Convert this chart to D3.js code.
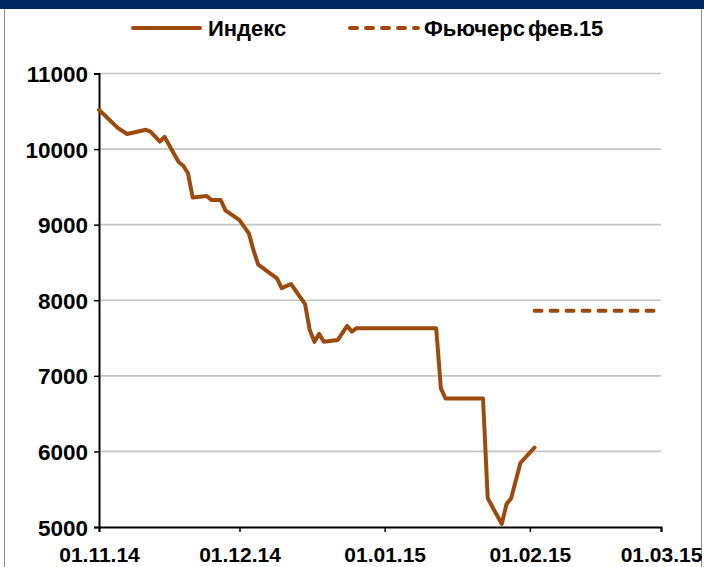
<!DOCTYPE html>
<html>
<head>
<meta charset="utf-8">
<script src="https://cdn.jsdelivr.net/npm/d3@7"></script>
<style>
    body { margin: 0; background: #fff; }
    svg text { font-family: "Liberation Sans", Arial, sans-serif; font-weight: bold; fill: #000; }
</style>
</head>
<body>
<svg id="chart" width="704" height="567"></svg>
<script>
// Index values (date, value)
var indexDates = ["01.11.14", "05.11.14", "07.11.14", "11.11.14", "12.11.14", "14.11.14", "15.11.14",
    "18.11.14", "19.11.14", "20.11.14", "21.11.14", "24.11.14", "25.11.14", "27.11.14", "28.11.14",
    "01.12.14", "03.12.14", "04.12.14", "05.12.14", "09.12.14", "10.12.14", "12.12.14", "15.12.14",
    "16.12.14", "17.12.14", "18.12.14", "19.12.14", "22.12.14", "23.12.14", "24.12.14", "25.12.14",
    "26.12.14", "12.01.15", "13.01.15", "14.01.15", "22.01.15", "23.01.15", "26.01.15", "27.01.15",
    "28.01.15", "30.01.15", "02.02.15"];
var indexValues = [10520, 10280, 10200, 10255, 10230, 10100, 10160,
    9830, 9780, 9680, 9360, 9380, 9325, 9325, 9190,
    9060, 8885, 8660, 8470, 8290, 8160, 8215, 7950,
    7605, 7450, 7555, 7450, 7475, 7570, 7660, 7585,
    7630, 7630, 6835, 6700, 6700, 5380, 5040, 5300,
    5380, 5850, 6050];

// Futures Feb.15
var futuresDates = ["02.02.15", "28.02.15"];
var futuresValues = [7860, 7860];

var xTickLabels = ["01.11.14", "01.12.14", "01.01.15", "01.02.15", "01.03.15"];
var yTicks = [5000, 6000, 7000, 8000, 9000, 10000, 11000];

var seriesNames = ["Индекс", "Фьючерс фев.15"];

var BROWN = "#9d4b0c";

var parse = d3.timeParse("%d.%m.%y");
var fmt = d3.timeFormat("%d.%m.%y");

var svg = d3.select("#chart");

// frame
svg.append("rect").attr("x", 4.5).attr("y", 0).attr("width", 697).attr("height", 580)
    .attr("fill", "none").attr("stroke", "#8c8c8c").attr("stroke-width", 1);
svg.append("rect").attr("x", 0).attr("y", 0).attr("width", 704).attr("height", 9).attr("fill", "#00275f");

var x = d3.scaleTime()
    .domain([parse(xTickLabels[0]), parse(xTickLabels[xTickLabels.length - 1])])
    .range([99, 661]);
var y = d3.scaleLinear().domain([5000, 11000]).range([527, 73.5]);

// gridlines
svg.append("g").selectAll("line").data(yTicks.slice(1)).enter().append("line")
    .attr("x1", 99).attr("x2", 661)
    .attr("y1", function(d) { return y(d); })
    .attr("y2", function(d) { return y(d); })
    .attr("stroke", "#c4c4c4").attr("stroke-width", 1.6);

// y axis
var yAxis = svg.append("g").attr("transform", "translate(99,0)")
    .call(d3.axisLeft(y).tickValues(yTicks).tickSize(5).tickPadding(6).tickFormat(d3.format("d")));
yAxis.select(".domain").attr("stroke", "#000").attr("stroke-width", 2);
yAxis.selectAll(".tick line").attr("stroke", "#000").attr("stroke-width", 1.5);
yAxis.selectAll("text").attr("font-size", 22.5).attr("fill", "#000").attr("dy", "0.36em")
    .attr("font-family", "Liberation Sans, Arial, sans-serif").attr("font-weight", "bold");

// x axis
var xAxis = svg.append("g").attr("transform", "translate(0,527)")
    .call(d3.axisBottom(x).tickValues(xTickLabels.map(parse)).tickSize(5).tickPadding(15).tickFormat(fmt));
xAxis.select(".domain").attr("stroke", "#000").attr("stroke-width", 2);
xAxis.selectAll(".tick line").attr("stroke", "#000").attr("stroke-width", 1.5);
xAxis.selectAll("text").attr("font-size", 21).attr("fill", "#000")
    .attr("font-family", "Liberation Sans, Arial, sans-serif").attr("font-weight", "bold");

var line = d3.line()
    .x(function(d) { return x(d.date); })
    .y(function(d) { return y(d.value); });

function toPoints(dates, values) {
    return dates.map(function(d, i) {
        return { date: parse(d), value: values[i] };
    });
}

svg.append("path").datum(toPoints(indexDates, indexValues))
    .attr("d", line).attr("fill", "none").attr("stroke", BROWN)
    .attr("stroke-width", 4).attr("stroke-linejoin", "round").attr("stroke-linecap", "round");

svg.append("path").datum(toPoints(futuresDates, futuresValues))
    .attr("d", line).attr("fill", "none").attr("stroke", BROWN)
    .attr("stroke-width", 4).attr("stroke-linecap", "round").attr("stroke-dasharray", "7,9");

// legend
var legend = [
    { name: seriesNames[0], x1: 133, x2: 200, tx: 208, dash: null },
    { name: seriesNames[1], x1: 350, x2: 418, tx: 424, dash: "7,9" }
];
var lg = svg.append("g").selectAll("g").data(legend).enter().append("g");
lg.append("line")
    .attr("x1", function(d) { return d.x1; })
    .attr("x2", function(d) { return d.x2; })
    .attr("y1", 28).attr("y2", 28)
    .attr("stroke", BROWN).attr("stroke-width", 4).attr("stroke-linecap", "round")
    .attr("stroke-dasharray", function(d) { return d.dash; });
lg.append("text")
    .attr("x", function(d) { return d.tx; })
    .attr("y", 36)
    .attr("font-size", 22)
    .attr("word-spacing", -3)
    .text(function(d) { return d.name; });
</script>
</body>
</html>
